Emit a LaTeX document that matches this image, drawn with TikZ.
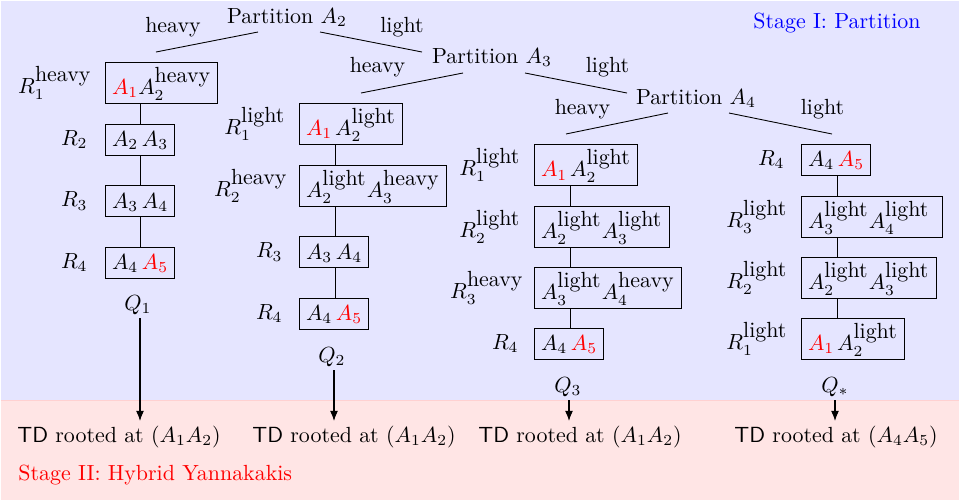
\documentclass[tikz,border=0pt]{standalone}
\usetikzlibrary{arrows.meta}
\begin{document}
\begin{tikzpicture}[x=0.45625pt,y=-0.45625pt,
  rbox/.style={draw, inner xsep=3pt, inner ysep=0pt, anchor=west},
  sbox/.style={rbox, text height=14.8pt, text depth=3.9pt},
  pbox/.style={rbox, text height=10.3pt, text depth=3.8pt},
  rlab/.style={anchor=east, inner sep=0pt},
  tlab/.style={anchor=base},
  link/.style={line width=0.4pt},
  arr/.style={line width=0.5pt, -{Latex[length=4.6pt,width=3.6pt]}},
  td/.style={anchor=base}]
\useasboundingbox (0,0) rectangle (960,503);
\fill[blue!10] (1,1) rectangle (959,400);
\fill[red!10] (1,400) rectangle (959,500);
\draw[red!18, line width=0.4pt] (1,400) -- (959,400);

% partition nodes
\node[tlab] (p2) at (287,23) {Partition $A_2$};
\node[tlab] (p3) at (492,63) {Partition $A_3$};
\node[tlab] (p4) at (696,104) {Partition $A_4$};
\node[tlab] (eh1) at (173,32) {heavy};
\node[tlab] (el1) at (402,32) {light};
\node[tlab] (eh2) at (377.5,72) {heavy};
\node[tlab] (el2) at (607.5,72) {light};
\node[tlab] (eh3) at (582.5,114) {heavy};
\node[tlab] (el3) at (822.5,114) {light};
\coordinate (p2a) at (258,32); \coordinate (p2b) at (320,32);
\coordinate (t1) at (156,52);   \coordinate (p3in) at (422,52);
\coordinate (p3a) at (463,73); \coordinate (p3b) at (525,73);
\coordinate (t2) at (361,93);   \coordinate (p4in) at (627,93);
\coordinate (p4a) at (668,113); \coordinate (p4b) at (729,113);
\coordinate (t3) at (566,134);  \coordinate (t4) at (832,134);
\draw[link] (p2a) -- (t1);
\draw[link] (p2b) -- (p3in);
\draw[link] (p3a) -- (t2);
\draw[link] (p3b) -- (p4in);
\draw[link] (p4a) -- (t3);
\draw[link] (p4b) -- (t4);

\node[anchor=base, text=blue] (s1) at (837,28) {Stage I: Partition};

% column 1
\node[sbox] (a1) at (105,82.5) {$\textcolor{red}{A_1}A_2^{\mbox{heavy}}$};
\node[pbox] (a2) at (105,139.5) {$A_2\,A_3$};
\node[pbox] (a3) at (105,201) {$A_3\,A_4$};
\node[pbox] (a4) at (105,262.5) {$A_4\,\textcolor{red}{A_5}$};
\node[rlab] (ra1) at (92,82.5) {$R_1^{\mbox{heavy}}$};
\node[rlab] (ra2) at (88,139.5) {$R_2$};
\node[rlab] (ra3) at (88,201) {$R_3$};
\node[rlab] (ra4) at (88,262.5) {$R_4$};
\coordinate (xa) at (140,0);
\draw[link] (xa |- a1.south) -- (xa |- a2.north);
\draw[link] (xa |- a2.south) -- (xa |- a3.north);
\draw[link] (xa |- a3.south) -- (xa |- a4.north);
\node (q1) at (138,305) {$Q_1$};

% column 2
\node[sbox] (b1) at (299,123.5) {$\textcolor{red}{A_1}\hspace{1.3pt}A_2^{\mbox{light}}$};
\node[sbox] (b2) at (299,185.5) {$A_2^{\mbox{light}}A_3^{\mbox{heavy}}$};
\node[pbox] (b3) at (299,252) {$A_3\,A_4$};
\node[pbox] (b4) at (299,313.5) {$A_4\,\textcolor{red}{A_5}$};
\node[rlab] (rb1) at (286,123.5) {$R_1^{\mbox{light}}$};
\node[rlab] (rb2) at (288,185.5) {$R_2^{\mbox{heavy}}$};
\node[rlab] (rb3) at (283,252) {$R_3$};
\node[rlab] (rb4) at (283,313.5) {$R_4$};
\coordinate (xb) at (335,0);
\draw[link] (xb |- b1.south) -- (xb |- b2.north);
\draw[link] (xb |- b2.south) -- (xb |- b3.north);
\draw[link] (xb |- b3.south) -- (xb |- b4.north);
\node (q2) at (332,357) {$Q_2$};

% column 3
\node[sbox] (c1) at (534,165) {$\textcolor{red}{A_1}\hspace{1.3pt}A_2^{\mbox{light}}$};
\node[sbox] (c2) at (534,226.5) {$A_2^{\mbox{light}}A_3^{\mbox{light}}$};
\node[sbox] (c3) at (534,287.5) {$A_3^{\mbox{light}}A_4^{\mbox{heavy}}$};
\node[pbox] (c4) at (534,343.5) {$A_4\,\textcolor{red}{A_5}$};
\node[rlab] (rc1) at (521,165) {$R_1^{\mbox{light}}$};
\node[rlab] (rc2) at (521,226.5) {$R_2^{\mbox{light}}$};
\node[rlab] (rc3) at (524,287.5) {$R_3^{\mbox{heavy}}$};
\node[rlab] (rc4) at (519,343.5) {$R_4$};
\coordinate (xc) at (570,0);
\draw[link] (xc |- c1.south) -- (xc |- c2.north);
\draw[link] (xc |- c2.south) -- (xc |- c3.north);
\draw[link] (xc |- c3.south) -- (xc |- c4.north);
\node (q3) at (568,387) {$Q_3$};

% column 4
\node[pbox] (d1) at (801,159.5) {$A_4\,\textcolor{red}{A_5}$};
\node[sbox] (d2) at (801,216.5) {$A_3^{\mbox{light}}A_4^{\mbox{light}}\;$};
\node[sbox] (d3) at (801,277.5) {$A_2^{\mbox{light}}A_3^{\mbox{light}}$};
\node[sbox] (d4) at (801,338.5) {$\textcolor{red}{A_1}\hspace{1.3pt}A_2^{\mbox{light}}$};
\node[rlab] (rd1) at (785,159.5) {$R_4$};
\node[rlab] (rd2) at (788,216.5) {$R_3^{\mbox{light}}$};
\node[rlab] (rd3) at (788,277.5) {$R_2^{\mbox{light}}$};
\node[rlab] (rd4) at (788,338.5) {$R_1^{\mbox{light}}$};
\coordinate (xd) at (837,0);
\draw[link] (xd |- d1.south) -- (xd |- d2.north);
\draw[link] (xd |- d2.south) -- (xd |- d3.north);
\draw[link] (xd |- d3.south) -- (xd |- d4.north);
\node (q4) at (835,387) {$Q_*$};

% stage II
\node[td] (td1) at (119,442) {\textsf{TD} rooted at $(A_1A_2)$};
\node[td] (td2) at (354,442) {\textsf{TD} rooted at $(A_1A_2)$};
\node[td] (td3) at (580,442) {\textsf{TD} rooted at $(A_1A_2)$};
\node[td] (td4) at (836,442) {\textsf{TD} rooted at $(A_4A_5)$};
\coordinate (ya) at (0,421);
\draw[arr] (140,318) coordinate (q1s) -- (q1s |- ya);
\draw[arr] (334,370) coordinate (q2s) -- (q2s |- ya);
\draw[arr] (569,400) coordinate (q3s) -- (q3s |- ya);
\draw[arr] (835,400) coordinate (q4s) -- (q4s |- ya);
\node[anchor=base west, text=red, inner sep=0pt] (s2) at (18,480) {Stage II: Hybrid Yannakakis};
\end{tikzpicture}
\end{document}
